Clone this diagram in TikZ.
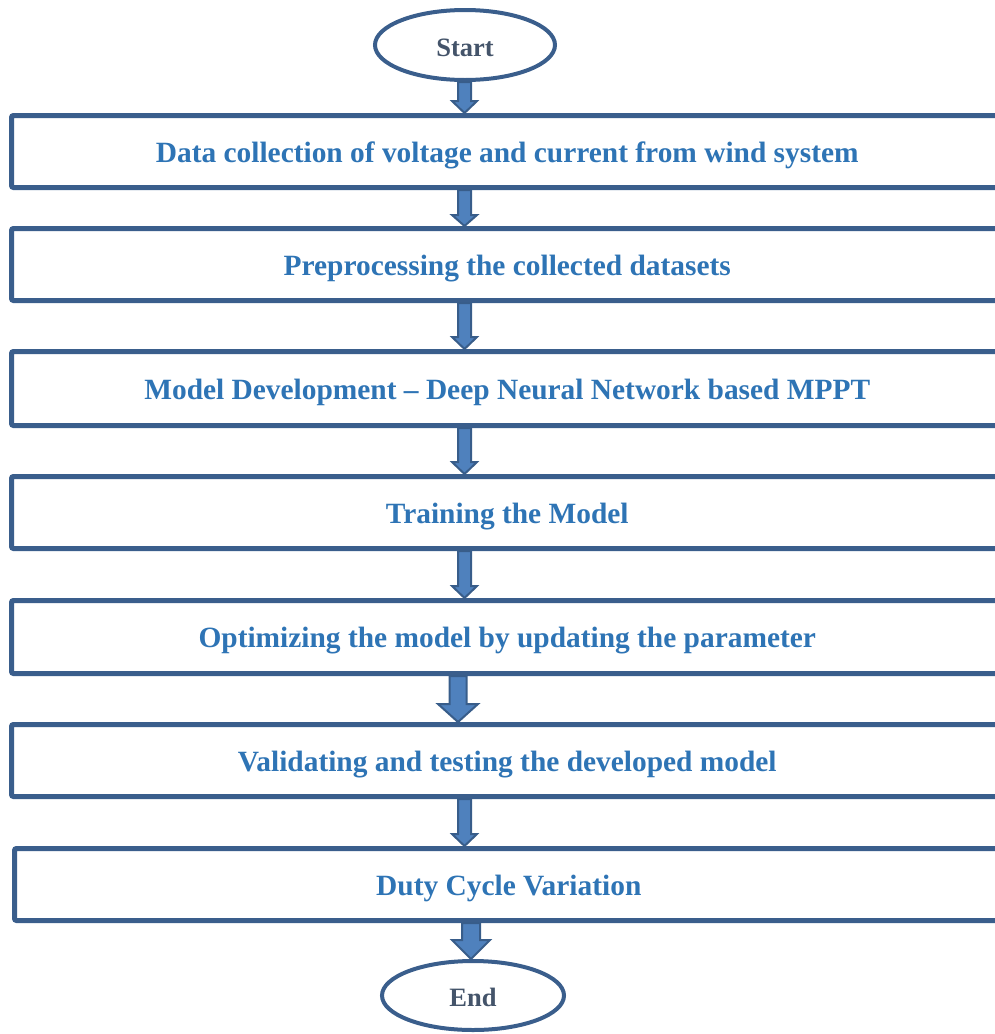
\documentclass[tikz,border=0pt]{standalone}
\usepackage{fontspec}
\setmainfont{Liberation Serif}
\usetikzlibrary{shapes.geometric,calc}
\definecolor{boxline}{HTML}{3A5E8C}
\definecolor{arrowfill}{HTML}{4F81BD}
\definecolor{arrowline}{HTML}{385D8A}
\definecolor{boxtext}{HTML}{2E74B5}
\definecolor{termtext}{HTML}{44546A}
\newcommand{\low}[2]{\raisebox{-#1}[\height][\depth]{#2}}
\tikzset{
  stepbox/.style={draw=boxline,line width=5pt,rounded corners=2pt,fill=white,
    font=\fontsize{29.4}{33}\selectfont\bfseries,text=boxtext,inner sep=0pt},
  terminal/.style={ellipse,draw=boxline,line width=4pt,fill=white,inner sep=0pt,
    font=\fontsize{26.5}{30}\selectfont\bfseries,text=termtext},
  blockarrow/.style={draw=arrowline,fill=arrowfill,line width=2pt,line join=miter}
}
% #1 from node, #2 to node, #3 x centre, #4 half shaft, #5 half head, #6 head length
\newcommand{\blockarr}[6]{%
  \draw[blockarrow] let \p1=(#1.south), \p2=(#2.north) in
    (#3-#4,\y1) -- (#3+#4,\y1) -- (#3+#4,\y2+#6) -- (#3+#5,\y2+#6) -- (#3,\y2)
    -- (#3-#5,\y2+#6) -- (#3-#4,\y2+#6) -- cycle;}
\begin{document}
\begin{tikzpicture}[x=1pt,y=-1pt]
\useasboundingbox (0,0) rectangle (995,1034);
\clip (0,0) rectangle (995,1034);
\node[stepbox,minimum width=991.5pt,minimum height=72pt] (b1) at (507.25,151.5) {\low{4pt}{Data collection of voltage and current from wind system}};
\node[stepbox,minimum width=991.5pt,minimum height=72pt] (b2) at (507.25,264.5) {\low{4pt}{Preprocessing the collected datasets}};
\node[stepbox,minimum width=991.5pt,minimum height=74pt] (b3) at (507.25,388.5) {\low{4pt}{Model Development -- Deep Neural Network based MPPT}};
\node[stepbox,minimum width=991.5pt,minimum height=72pt] (b4) at (507.25,512.5) {\low{4pt}{Training the Model}};
\node[stepbox,minimum width=991.5pt,minimum height=73pt] (b5) at (507.25,637) {\low{4pt}{Optimizing the model by updating the parameter}};
\node[stepbox,minimum width=991.5pt,minimum height=72pt] (b6) at (507.25,760.5) {\low{4pt}{Validating and testing the developed model}};
\node[stepbox,minimum width=988.5pt,minimum height=72pt] (b7) at (508.75,884.5) {\low{4pt}{Duty Cycle Variation}};
\node[terminal,minimum width=180pt,minimum height=70pt] (start) at (465,45) {\low{3pt}{Start}};
\node[terminal,minimum width=182pt,minimum height=69pt] (end) at (473,995.5) {\low{2pt}{End}};
\blockarr{start}{b1}{464.5}{6.5}{12.5}{12}
\blockarr{b1}{b2}{464.5}{6.5}{12.5}{11}
\blockarr{b2}{b3}{464.5}{6.5}{12.5}{12}
\blockarr{b3}{b4}{464.5}{6.5}{12.5}{12}
\blockarr{b4}{b5}{464.5}{6.5}{12.5}{12}
\blockarr{b5}{b6}{458}{8.5}{20}{18}
\blockarr{b6}{b7}{464.5}{6.5}{12.5}{12}
\blockarr{b7}{end}{471}{9}{19}{19}
\end{tikzpicture}
\end{document}
